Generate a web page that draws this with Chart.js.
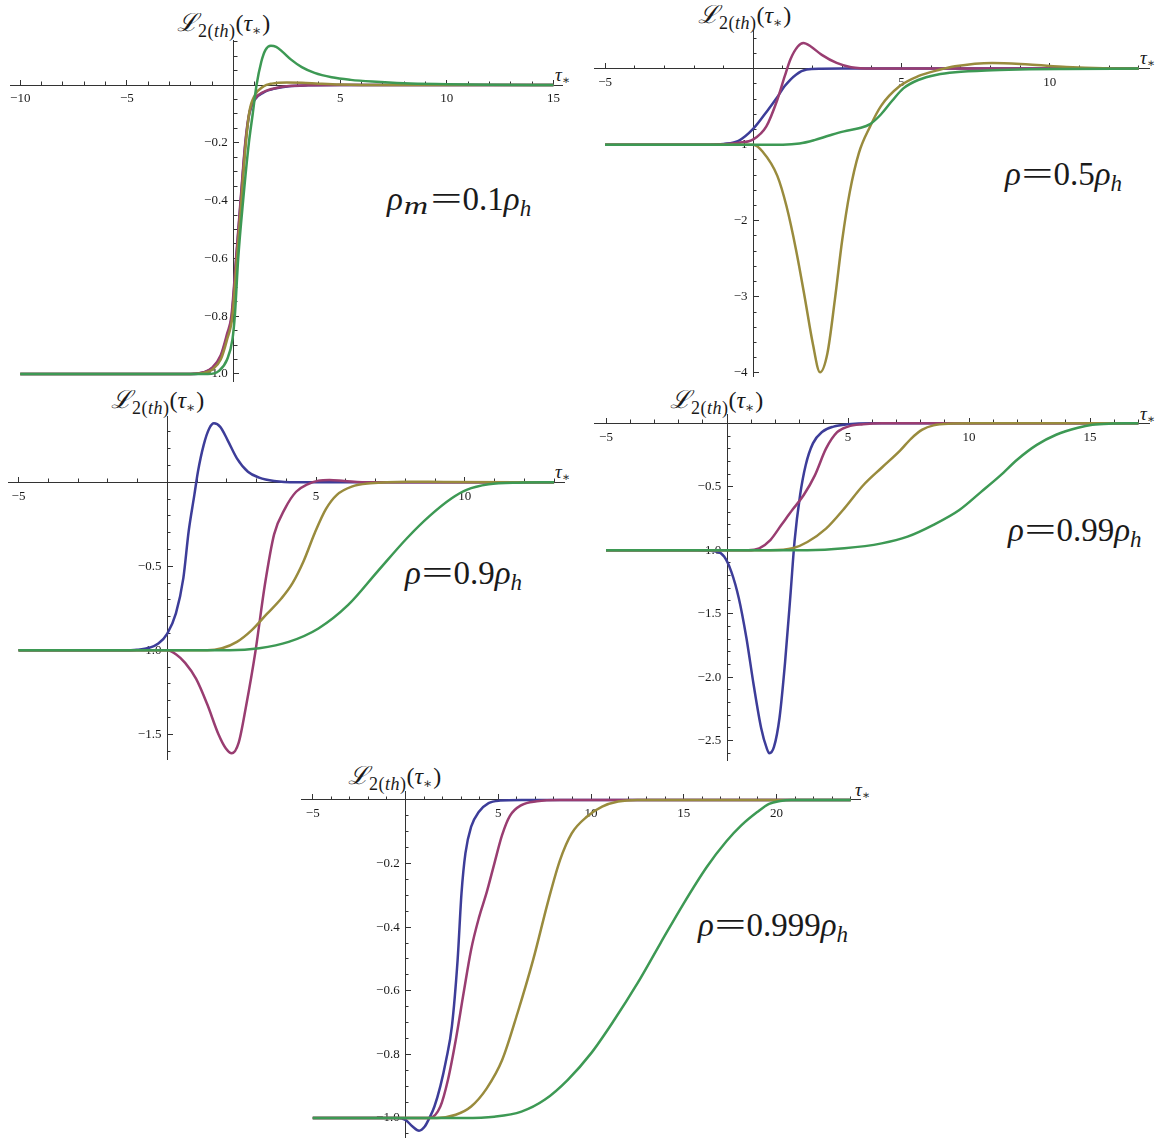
<!DOCTYPE html>
<html>
<head>
<meta charset="utf-8">
<title>L2(th) transients</title>
<script src="https://cdn.jsdelivr.net/npm/chart.js@4.4.0/dist/chart.umd.min.js"></script>
<style>
  html, body { margin: 0; padding: 0; background: #fff; }
  body { width: 1167px; height: 1140px; position: relative; overflow: hidden; }
  canvas { position: absolute; }
  .lbl { position: absolute; white-space: nowrap; line-height: 1; color: #1a1a1a;
         font-family: 'Liberation Serif', 'Times New Roman', Times, 'DejaVu Serif', serif; }
  .ylab { font-size: 24px; }
  .ylab .cal { font-family: 'DejaVu Serif', serif; font-style: italic; font-size: 25px; }
  .ylab sub { font-size: 18px; vertical-align: -6px; letter-spacing: 0.5px; }
  .ylab sub.ast { font-size: 14px; vertical-align: -4px; }
  .tau { font-size: 19px; }
  .tau sub { font-size: 12px; vertical-align: -3px; }
  .note { font-size: 33px; }
  .note sub { font-size: 23px; vertical-align: -6px; }
  .note sub.m { font-size: 25px; vertical-align: -4px; display: inline-block; transform: scaleX(1.35); margin: 0 5px 0 4px; }
  .note .eq { display: inline-block; transform: scaleX(1.7); margin: 0 7px; }
</style>
</head>
<body>

<div class="lbl ylab" style="left:177px;top:10px"><span class="cal">ℒ</span><sub>2(<i>th</i>)</sub>(<i>τ</i><sub class="ast">∗</sub>)</div>
<div class="lbl ylab" style="left:698px;top:2px"><span class="cal">ℒ</span><sub>2(<i>th</i>)</sub>(<i>τ</i><sub class="ast">∗</sub>)</div>
<div class="lbl ylab" style="left:111px;top:387px"><span class="cal">ℒ</span><sub>2(<i>th</i>)</sub>(<i>τ</i><sub class="ast">∗</sub>)</div>
<div class="lbl ylab" style="left:670px;top:387px"><span class="cal">ℒ</span><sub>2(<i>th</i>)</sub>(<i>τ</i><sub class="ast">∗</sub>)</div>
<div class="lbl ylab" style="left:348px;top:763px"><span class="cal">ℒ</span><sub>2(<i>th</i>)</sub>(<i>τ</i><sub class="ast">∗</sub>)</div>

<div class="lbl tau" style="left:555px;top:65px"><i>τ</i><sub>∗</sub></div>
<div class="lbl tau" style="left:1140px;top:48px"><i>τ</i><sub>∗</sub></div>
<div class="lbl tau" style="left:555px;top:462px"><i>τ</i><sub>∗</sub></div>
<div class="lbl tau" style="left:1140px;top:404px"><i>τ</i><sub>∗</sub></div>
<div class="lbl tau" style="left:855px;top:780px"><i>τ</i><sub>∗</sub></div>

<div class="lbl note" style="left:387px;top:183px"><i>ρ</i><sub class="m"><i>m</i></sub><span class="eq">=</span>0.1<i>ρ</i><sub><i>h</i></sub></div>
<div class="lbl note" style="left:1005px;top:158px"><i>ρ</i><span class="eq">=</span>0.5<i>ρ</i><sub><i>h</i></sub></div>
<div class="lbl note" style="left:405px;top:557px"><i>ρ</i><span class="eq">=</span>0.9<i>ρ</i><sub><i>h</i></sub></div>
<div class="lbl note" style="left:1008px;top:514px"><i>ρ</i><span class="eq">=</span>0.99<i>ρ</i><sub><i>h</i></sub></div>
<div class="lbl note" style="left:698px;top:909px"><i>ρ</i><span class="eq">=</span>0.999<i>ρ</i><sub><i>h</i></sub></div>

<script>
// labelled ticks for each panel
const p1XTicks = [-10, -5, 5, 10, 15];
const p1YTicks = [-1.0, -0.8, -0.6, -0.4, -0.2];
const p2XTicks = [-5, 5, 10];
const p2YTicks = [-4, -3, -2, -1];
const p3XTicks = [-5, 5, 10];
const p3YTicks = [-1.5, -1.0, -0.5];
const p4XTicks = [-5, 5, 10, 15];
const p4YTicks = [-2.5, -2.0, -1.5, -1.0, -0.5];
const p5XTicks = [-5, 5, 10, 15, 20];
const p5YTicks = [-1.0, -0.8, -0.6, -0.4, -0.2];

// rho_m = 0.1 rho_h
const p1Blue = [[-10,-1],[-2,-1],[-1.4,-0.995],[-1,-0.98],[-0.6,-0.94],[-0.3,-0.87],[-0.08,-0.8],[0.13,-0.6],[0.34,-0.4],[0.56,-0.2],[0.74,-0.1],[1,-0.05],[1.4,-0.026],[2,-0.011],[2.6,-0.004],[3.5,-0.001],[5,0],[15,0]];
const p1Purple = [[-10,-1],[-2,-1],[-1.4,-0.994],[-1,-0.978],[-0.6,-0.935],[-0.3,-0.86],[-0.1,-0.8],[0.12,-0.6],[0.33,-0.4],[0.55,-0.2],[0.73,-0.1],[1,-0.048],[1.4,-0.024],[2,-0.01],[2.6,-0.003],[3.5,-0.001],[5,0],[15,0]];
const p1Olive = [[-10,-1],[-2,-1],[-1.4,-0.996],[-1,-0.985],[-0.6,-0.95],[-0.3,-0.88],[-0.05,-0.8],[0.16,-0.6],[0.37,-0.4],[0.58,-0.2],[0.75,-0.09],[1,-0.035],[1.4,-0.005],[1.8,0.005],[2.5,0.009],[3.2,0.008],[4,0.005],[5,0.002],[7,0],[15,0]];
const p1Green = [[-10,-1],[-1.2,-1],[-0.7,-0.99],[-0.3,-0.95],[-0.05,-0.88],[0.06,-0.8],[0.22,-0.6],[0.45,-0.4],[0.72,-0.2],[0.9,-0.1],[1.08,0],[1.3,0.08],[1.5,0.122],[1.75,0.136],[2,0.132],[2.3,0.115],[2.7,0.088],[3.2,0.062],[3.8,0.042],[4.6,0.027],[5.5,0.018],[6.5,0.012],[8,0.006],[10,0.003],[12,0.001],[15,0]];

// rho = 0.5 rho_h
const p2Blue = [[-5,-1],[-1.5,-1],[-1,-0.99],[-0.5,-0.95],[0,-0.79],[0.5,-0.54],[0.8,-0.38],[1.06,-0.23],[1.44,-0.08],[1.8,-0.013],[2.3,-0.002],[3,0],[13,0]];
const p2Purple = [[-5,-1],[-1.5,-1],[-1,-0.995],[-0.5,-0.975],[0,-0.93],[0.44,-0.76],[0.81,-0.41],[1.06,-0.1],[1.25,0.12],[1.5,0.29],[1.69,0.337],[1.94,0.29],[2.31,0.18],[2.81,0.074],[3.3,0.018],[4,0],[13,0]];
const p2Olive = [[-5,-1],[-0.5,-1],[0,-1.0],[0.31,-1.09],[0.81,-1.41],[1.12,-1.81],[1.44,-2.38],[1.75,-3.04],[2.0,-3.6],[2.25,-3.99],[2.5,-3.74],[2.75,-3.04],[3.0,-2.25],[3.25,-1.63],[3.56,-1.11],[3.94,-0.76],[4.31,-0.49],[4.94,-0.23],[5.56,-0.1],[6.31,-0.013],[6.8,0.03],[8.06,0.074],[9.3,0.053],[10.56,0.022],[11.8,0.004],[13,0]];
const p2Green = [[-5,-1],[1,-1],[1.56,-0.985],[2.06,-0.94],[2.56,-0.88],[3.06,-0.825],[3.56,-0.785],[3.94,-0.73],[4.31,-0.6],[4.69,-0.42],[5.06,-0.26],[5.56,-0.15],[6.19,-0.08],[6.81,-0.048],[8.06,-0.022],[9.3,-0.009],[10.5,-0.004],[13,0]];

// rho = 0.9 rho_h
const p3Blue = [[-5,-1],[-1.5,-1],[-1.02,-0.997],[-0.6,-0.985],[-0.3,-0.96],[0,-0.9],[0.29,-0.78],[0.54,-0.57],[0.72,-0.29],[0.91,-0.075],[1.03,0.063],[1.22,0.22],[1.41,0.32],[1.57,0.351],[1.78,0.33],[2.03,0.25],[2.34,0.143],[2.71,0.063],[3.09,0.028],[3.59,0.008],[4.33,0],[13,0]];
const p3Purple = [[-5,-1],[0,-1],[0.3,-1.025],[0.6,-1.075],[0.97,-1.17],[1.34,-1.32],[1.72,-1.5],[1.97,-1.585],[2.17,-1.613],[2.4,-1.55],[2.65,-1.33],[2.96,-1.01],[3.28,-0.61],[3.59,-0.31],[3.96,-0.155],[4.33,-0.056],[4.71,-0.012],[5.08,0.01],[5.45,0.014],[5.95,0.008],[6.8,0],[13,0]];
const p3Olive = [[-5,-1],[1.34,-1],[1.84,-0.988],[2.34,-0.95],[2.84,-0.88],[3.34,-0.785],[3.84,-0.69],[4.21,-0.6],[4.58,-0.47],[4.96,-0.3],[5.33,-0.16],[5.7,-0.075],[6.2,-0.026],[6.82,-0.006],[8.07,0.004],[9.3,0.002],[13,0]];
const p3Green = [[-5,-1],[2.09,-1],[3.09,-0.988],[4.08,-0.95],[5.08,-0.87],[6.08,-0.73],[7.07,-0.53],[8.07,-0.33],[8.82,-0.2],[9.56,-0.095],[10.06,-0.045],[10.8,-0.012],[11.8,-0.002],[13,0]];

// rho = 0.99 rho_h
const p4Blue = [[-5,-1],[-1.27,-1],[-0.43,-1.01],[-0.12,-1.05],[0.18,-1.17],[0.49,-1.38],[0.8,-1.69],[1.1,-2.06],[1.41,-2.4],[1.64,-2.56],[1.75,-2.6],[1.94,-2.55],[2.17,-2.32],[2.4,-1.88],[2.63,-1.33],[2.79,-0.93],[3.02,-0.565],[3.25,-0.33],[3.55,-0.158],[3.94,-0.066],[4.4,-0.026],[5,-0.008],[5.93,0],[17,0]];
const p4Purple = [[-5,-1],[0.87,-1],[1.33,-0.985],[1.79,-0.92],[2.25,-0.8],[2.71,-0.68],[3.17,-0.565],[3.63,-0.41],[4.09,-0.2],[4.55,-0.07],[5,-0.026],[5.62,-0.008],[6.4,0],[17,0]];
const p4Olive = [[-5,-1],[1.79,-1],[2.71,-0.985],[3.32,-0.935],[4.09,-0.83],[4.85,-0.67],[5.62,-0.49],[6.39,-0.35],[7.15,-0.215],[7.61,-0.12],[8.07,-0.05],[8.53,-0.016],[9.14,-0.003],[10.2,0],[17,0]];
const p4Green = [[-5,-1],[3.32,-1],[4.85,-0.985],[6.39,-0.946],[7.46,-0.893],[8.53,-0.8],[9.6,-0.683],[10.5,-0.54],[11.3,-0.41],[12,-0.285],[12.8,-0.17],[13.6,-0.09],[14.5,-0.035],[15.1,-0.012],[15.9,-0.002],[16.5,0],[17,0]];

// rho = 0.999 rho_h
const p5Blue = [[-5,-1],[-0.42,-1],[0,-1.006],[0.38,-1.027],[0.73,-1.04],[1.04,-1.027],[1.29,-1],[1.56,-0.964],[1.88,-0.9],[2.19,-0.818],[2.5,-0.713],[2.81,-0.503],[3.02,-0.293],[3.23,-0.168],[3.54,-0.084],[3.96,-0.037],[4.48,-0.01],[5.1,-0.002],[6.25,0],[24,0]];
const p5Purple = [[-5,-1],[1.29,-1],[1.88,-0.964],[2.29,-0.88],[2.71,-0.755],[3.13,-0.608],[3.54,-0.47],[3.96,-0.37],[4.38,-0.29],[4.79,-0.2],[5.21,-0.11],[5.63,-0.05],[6.25,-0.016],[7.08,-0.004],[8.33,0],[24,0]];
const p5Olive = [[-5,-1],[1.67,-1],[2.71,-0.99],[3.54,-0.964],[4.38,-0.907],[5.21,-0.818],[6.04,-0.67],[6.88,-0.503],[7.71,-0.314],[8.33,-0.189],[8.96,-0.105],[9.79,-0.052],[10.6,-0.021],[11.46,-0.005],[12.5,0],[24,0]];
const p5Green = [[-5,-1],[3.13,-1],[4.79,-0.996],[6.25,-0.98],[7.5,-0.943],[8.75,-0.88],[10,-0.797],[11.25,-0.692],[12.5,-0.577],[13.75,-0.45],[15,-0.325],[16.25,-0.21],[17.3,-0.13],[18.1,-0.08],[18.96,-0.038],[19.6,-0.012],[20.2,-0.003],[20.8,0],[24,0]];

const curveColors = ['#3d3d99', '#993d71', '#998b3d', '#3d9954'];

// plot boxes in page pixels [left, top, right, bottom] and the axis ranges they span
const panels = [
  { box: [10.4, 40, 562, 381.8],   xRange: [-10.46, 15.4], yRange: [-1.027, 0.156], xTicks: p1XTicks, yTicks: p1YTicks, yMinor: 0.05, yDigits: 1, curves: [p1Blue, p1Purple, p1Olive, p1Green] },
  { box: [594.4, 30, 1149.7, 376], xRange: [-5.36, 13.37],  yRange: [-4.04, 0.507],  xTicks: p2XTicks, yTicks: p2YTicks, yMinor: 0.2,  yDigits: 0, curves: [p2Blue, p2Purple, p2Olive, p2Green] },
  { box: [8.1, 416.8, 564.8, 759.5], xRange: [-5.35, 13.36], yRange: [-1.65, 0.39], xTicks: p3XTicks, yTicks: p3YTicks, yMinor: 0.1,  yDigits: 1, curves: [p3Blue, p3Purple, p3Olive, p3Green] },
  { box: [594.4, 414.3, 1149.8, 760], xRange: [-5.48, 17.47], yRange: [-2.653, 0.071], xTicks: p4XTicks, yTicks: p4YTicks, yMinor: 0.1, yDigits: 1, curves: [p4Blue, p4Purple, p4Olive, p4Green] },
  { box: [301.6, 791.7, 860, 1137], xRange: [-5.6, 24.5],   yRange: [-1.06, 0.026],  xTicks: p5XTicks, yTicks: p5YTicks, yMinor: 0.05, yDigits: 1, curves: [p5Blue, p5Purple, p5Olive, p5Green] }
];

const AXIS = '#333';
const TICK_FONT = { family: "'Liberation Serif', 'Times New Roman', Times, 'DejaVu Serif', serif", size: 13 };

const fmt = (v, d) => (v < 0 ? '\u2212' : '') + Math.abs(v).toFixed(d);

function minorTicks(min, max, step, major) {
  const out = [];
  for (let k = Math.ceil(min / step); k * step <= max + 1e-9; k++) {
    const v = +(k * step).toFixed(6);
    if (Math.abs(v) < 1e-9) continue;
    if (major.some(m => Math.abs(m - v) < 1e-9)) continue;
    out.push(v);
  }
  return out;
}

// one axis layer sitting on the other axis' zero line; ticks point into +x / +y
function axisLayer(dir, range, values, len, labels) {
  const isX = dir === 'x';
  return {
    type: 'linear',
    axis: dir,
    min: range[0],
    max: range[1],
    bounds: 'data',
    position: isX ? { y: 0 } : { x: 0 },
    afterFit: (s) => { if (isX) s.height = 0; else s.width = 0; },
    afterBuildTicks: (s) => { s.ticks = values.map(v => ({ value: v })); },
    ticks: {
      display: !!labels,
      autoSkip: false,
      maxRotation: 0,
      padding: isX ? 12 : 0,
      font: TICK_FONT,
      color: '#1a1a1a',
      callback: labels || (() => '')
    },
    grid: { drawOnChartArea: false, drawTicks: true, tickLength: -len, tickColor: AXIS, tickWidth: 1 },
    border: { display: !!labels, color: AXIS, width: 1 }
  };
}

panels.forEach((p) => {
  const [l, t, r, b] = p.box;
  const cl = Math.floor(l) - 50, ct = Math.floor(t) - 20;
  const w = Math.ceil(r) + 30 - cl, h = Math.ceil(b) + 30 - ct;

  const canvas = document.createElement('canvas');
  canvas.width = w;
  canvas.height = h;
  canvas.style.left = cl + 'px';
  canvas.style.top = ct + 'px';
  document.body.appendChild(canvas);

  const xMinor = minorTicks(p.xRange[0], p.xRange[1], 1, p.xTicks);
  const yMinor = minorTicks(p.yRange[0], p.yRange[1], p.yMinor, p.yTicks);

  new Chart(canvas.getContext('2d'), {
    type: 'line',
    data: {
      datasets: p.curves.map((pts, i) => ({
        data: pts.map(([x, y]) => ({ x, y })),
        borderColor: curveColors[i],
        borderWidth: 2.5,
        pointRadius: 0,
        fill: false,
        cubicInterpolationMode: 'monotone',
        order: 3 - i,
        clip: false
      }))
    },
    options: {
      responsive: false,
      devicePixelRatio: 1,
      animation: false,
      events: [],
      layout: { padding: { left: l - cl, top: t - ct, right: w - (r - cl), bottom: h - (b - ct) } },
      plugins: { legend: { display: false }, tooltip: { enabled: false } },
      scales: {
        x: axisLayer('x', p.xRange, p.xTicks, 6, (v) => fmt(v, 0)),
        xMinor: axisLayer('x', p.xRange, xMinor, 3.5, null),
        y: axisLayer('y', p.yRange, p.yTicks, 6, (v) => fmt(v, p.yDigits) + ' \u2009'),
        yMinor: axisLayer('y', p.yRange, yMinor, 3.5, null)
      }
    }
  });
});
</script>
</body>
</html>
